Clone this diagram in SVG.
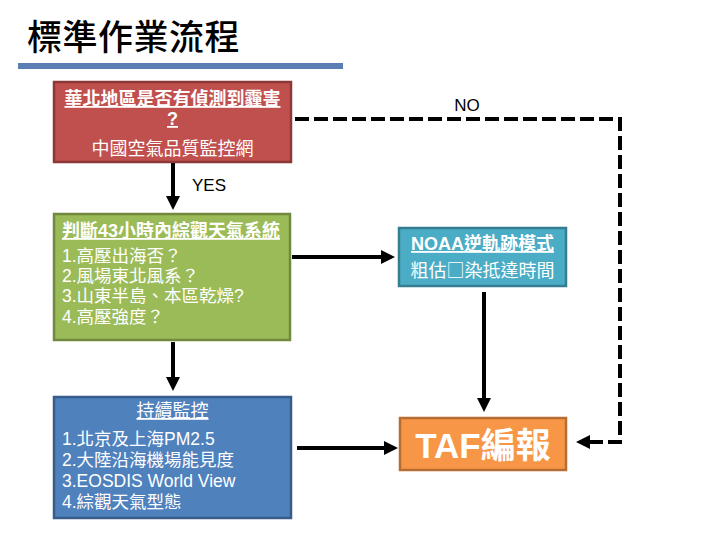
<svg xmlns="http://www.w3.org/2000/svg" width="720" height="540" viewBox="0 0 720 540">
<defs>
<marker id="ah" markerUnits="userSpaceOnUse" markerWidth="14" markerHeight="14" refX="6" refY="7" orient="auto">
<path d="M0,0 L14,7 L0,14 z" fill="#000"/>
</marker>
<style>
text{font-family:"Liberation Sans","Noto Sans CJK TC",sans-serif;}
.w{fill:#fff;font-size:17.5px;}
.hd{fill:#fff;font-size:18px;font-weight:bold;text-decoration:underline;}
.lbl{fill:#000;font-size:17px;}
.c{stroke:#000;stroke-width:4;fill:none;marker-end:url(#ah);}
.d{stroke-dasharray:14 5;}
</style>
</defs>
<rect width="720" height="540" fill="#fff"/>
<g id="title">
<text x="27" y="50" style="font-size:35px;font-weight:500;fill:#000;letter-spacing:0.5px">標準作業流程</text>
<rect x="18" y="63" width="325" height="6" fill="#5b7fb4"/>
</g>
<g id="node-red">
<rect x="54" y="82" width="237" height="80" fill="#c0504d" stroke="#8c3836" stroke-width="2.5"/>
<text x="172.5" y="105" text-anchor="middle" class="hd">華北地區是否有偵測到霾害</text>
<text x="172.5" y="125" text-anchor="middle" class="hd">?</text>
<text x="172.5" y="155" text-anchor="middle" class="w" style="font-size:18px">中國空氣品質監控網</text>
</g>
<g id="node-green">
<rect x="54" y="214" width="236" height="126" fill="#9bbb59" stroke="#71893f" stroke-width="2.5"/>
<text x="62" y="237" class="hd" textLength="218" lengthAdjust="spacingAndGlyphs">判斷43小時內綜觀天氣系統</text>
<text x="62" y="262" class="w">1.高壓出海否？</text>
<text x="62" y="282" class="w">2.風場東北風系？</text>
<text x="62" y="302" class="w">3.山東半島、本區乾燥?</text>
<text x="62" y="323" class="w">4.高壓強度？</text>
</g>
<g id="node-blue">
<rect x="54" y="397" width="237" height="121" fill="#4f81bd" stroke="#385d8a" stroke-width="2.5"/>
<text x="172.5" y="417" text-anchor="middle" class="w" style="font-size:18px;text-decoration:underline">持續監控</text>
<text x="62" y="445" class="w">1.北京及上海PM2.5</text>
<text x="62" y="466" class="w">2.大陸沿海機場能見度</text>
<text x="62" y="487" class="w">3.EOSDIS World View</text>
<text x="62" y="508" class="w">4.綜觀天氣型態</text>
</g>
<g id="node-noaa">
<rect x="399" y="228" width="167" height="58" fill="#4bacc6" stroke="#357d91" stroke-width="2.5"/>
<text x="482.5" y="250" text-anchor="middle" class="hd">NOAA逆軌跡模式</text>
<text x="482.5" y="277" text-anchor="middle" class="w" style="font-size:18px">粗估<tspan style="font-family:'Noto Sans CJK TC',sans-serif">□</tspan>染抵達時間</text>
</g>
<g id="node-taf">
<rect x="400" y="418" width="166" height="52" fill="#f79646" stroke="#b66d31" stroke-width="2.5"/>
<text x="483" y="458" text-anchor="middle" style="fill:#fff;font-size:35px;font-weight:bold">TAF編報</text>
</g>
<g id="connectors">
<path class="c" d="M173 163 V202"/>
<path class="c" d="M173 342 V383"/>
<path class="c" d="M292 257 H387"/>
<path class="c" d="M297 448 H390"/>
<path class="c" d="M484 292 V404"/>
<path class="c d" d="M295 119 H620 V442 H584"/>
<text x="192" y="191" class="lbl">YES</text>
<text x="467" y="111" text-anchor="middle" class="lbl">NO</text>
</g>
</svg>
